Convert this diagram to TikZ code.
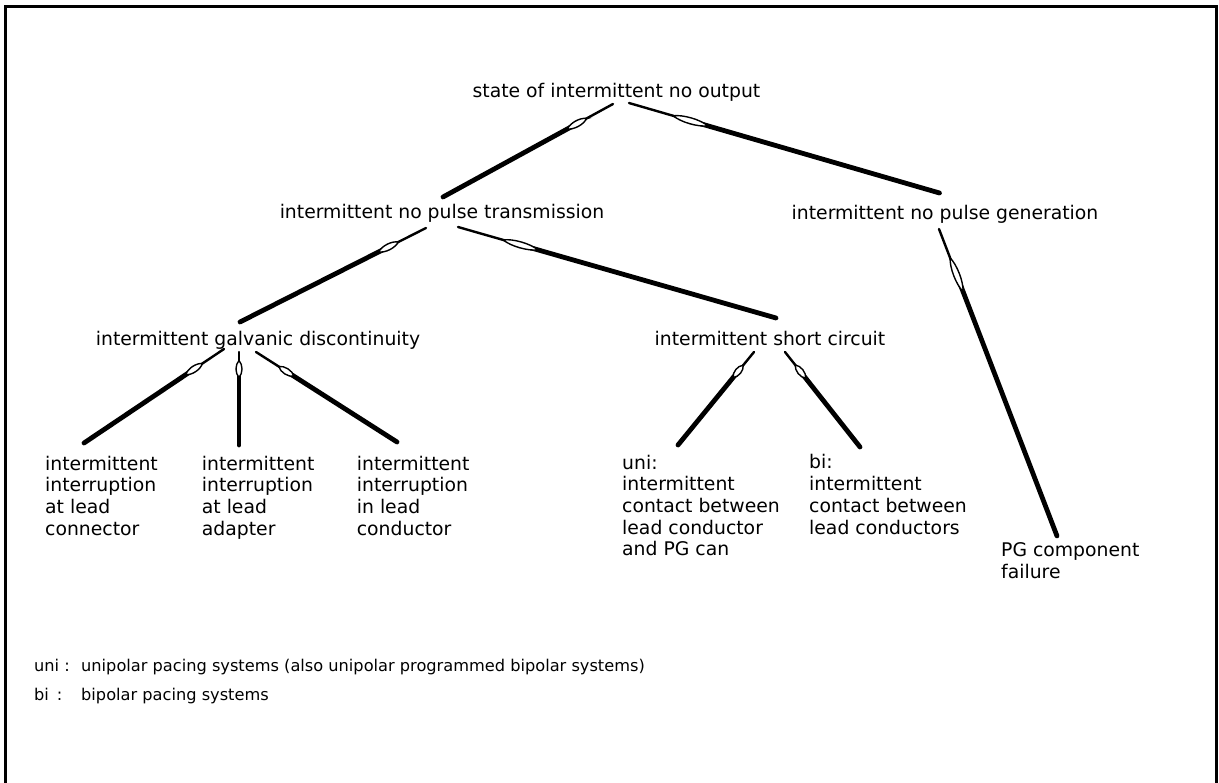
\documentclass[tikz,border=0pt]{standalone}
\usepackage{fontspec}
\setmainfont{DejaVu Sans}
\usetikzlibrary{calc,decorations.markings}

\newcommand\treefont{\fontsize{18.8}{21.7}\selectfont}
\newcommand\keyfont{\fontsize{16.2}{19}\selectfont}

\tikzset{
  treetext/.style={inner sep=0pt, anchor=base, font=\treefont},
  % multi-line labels are placed by the baseline of their last line
  leaftext/.style={inner sep=0pt, anchor=base west, align=left, font=\treefont},
  keytext/.style={inner sep=0pt, anchor=base west, font=\keyfont},
  tipline/.style={line width=2.4pt, line cap=round},
  shaft/.style={line width=4.8pt, line cap=round},
  eye/.style={line width=1.4pt, fill=white},
  frame/.style={line width=3pt}
}

% needle-shaped connector: fine tip at the parent, hollow eye, heavy shaft to the child
% #1 parent end, #2 child end, #3 distance of the eye centre from the tip, #4 eye length
\newcommand\needle[4]{%
  \draw[tipline] (#1) -- ($(#1)!#3pt!(#2)$);
  \draw[shaft] ($(#1)!#3pt!(#2)$) -- (#2);
  \path[decoration={markings, mark=at position #3pt with {%
      \draw[eye] ({-#4/2},0) .. controls ({-#4/4},4) and ({#4/4},4) .. ({#4/2},0)
                 .. controls ({#4/4},-4) and ({-#4/4},-4) .. cycle;}},
        decorate] (#1) -- (#2);
}

\begin{document}
\begin{tikzpicture}[x=1pt, y=-1pt]
\useasboundingbox (0,0) rectangle (1219,783);

% open frame
\draw[frame] (5,783) -- (5,7) -- (1216,7) -- (1216,783);

% tree labels
\node[treetext] (root) at (616.5,98) {state of intermittent no output};
\node[treetext] (npt)  at (442,219)  {intermittent no pulse transmission};
\node[treetext] (npg)  at (945,220)  {intermittent no pulse generation};
\node[treetext] (gd)   at (258,346)  {intermittent galvanic discontinuity};
\node[treetext] (sc)   at (770,346)  {intermittent short circuit};

\node[leaftext] (leafA)  at (45,535.1)    {intermittent\\interruption\\at lead\\connector};
\node[leaftext] (leafB)  at (201.7,535.1) {intermittent\\interruption\\at lead\\adapter};
\node[leaftext] (leafC)  at (356.7,535.1) {intermittent\\interruption\\in lead\\conductor};
\node[leaftext] (leafU)  at (622,555.8)   {uni:\\intermittent\\contact between\\lead conductor\\and PG can};
\node[leaftext] (leafBi) at (809,534.1)   {bi:\\intermittent\\contact between\\lead conductors};
\node[leaftext] (leafPG) at (1001,578)    {PG component\\failure};

% key
\node[keytext] (keyU) at (34,671) {\makebox[47pt][l]{uni :}unipolar pacing systems (also unipolar programmed bipolar systems)};
\node[keytext] (keyB) at (34,700) {\makebox[47pt][l]{bi\hspace{8pt}:}bipolar pacing systems};

% connector ends
\coordinate (rootL) at ([shift={(-3.5,6)}]root.base);
\coordinate (rootR) at ([shift={(12.5,5)}]root.base);
\coordinate (nptT)  at ([shift={(1,-22)}]npt.base);
\coordinate (nptL)  at ([shift={(-16,9)}]npt.base);
\coordinate (nptR)  at ([shift={(16,8)}]npt.base);
\coordinate (npgT)  at ([shift={(-5.5,-27)}]npg.base);
\coordinate (npgB)  at ([shift={(-6,9)}]npg.base);
\coordinate (gdT)   at ([shift={(-18,-24)}]gd.base);
\coordinate (gdL)   at ([shift={(-34,3)}]gd.base);
\coordinate (gdM)   at ([shift={(-19,6)}]gd.base);
\coordinate (gdR)   at ([shift={(-2,6)}]gd.base);
\coordinate (scT)   at ([shift={(6,-28)}]sc.base);
\coordinate (scL)   at ([shift={(-16,6)}]sc.base);
\coordinate (scR)   at ([shift={(15,6)}]sc.base);
\coordinate (leafAT)  at ([shift={(39,-92.1)}]leafA.base west);
\coordinate (leafBT)  at ([shift={(37.3,-90.1)}]leafB.base west);
\coordinate (leafCT)  at ([shift={(40.3,-93.1)}]leafC.base west);
\coordinate (leafUT)  at ([shift={(56,-110.8)}]leafU.base west);
\coordinate (leafBiT) at ([shift={(51,-87.1)}]leafBi.base west);
\coordinate (leafPGT) at ([shift={(56,-42)}]leafPG.base west);

% connectors
\needle{rootL}{nptT}{41}{22}
\needle{rootR}{npgT}{64}{36}
\needle{nptL}{gdT}{42}{22}
\needle{nptR}{scT}{65}{36}
\needle{npgB}{leafPGT}{49}{36}
\needle{gdL}{leafAT}{36}{20}
\needle{gdM}{leafBT}{17}{17}
\needle{gdR}{leafCT}{36}{18}
\needle{scL}{leafUT}{25}{16}
\needle{scR}{leafBiT}{25}{17}
\end{tikzpicture}
\end{document}
